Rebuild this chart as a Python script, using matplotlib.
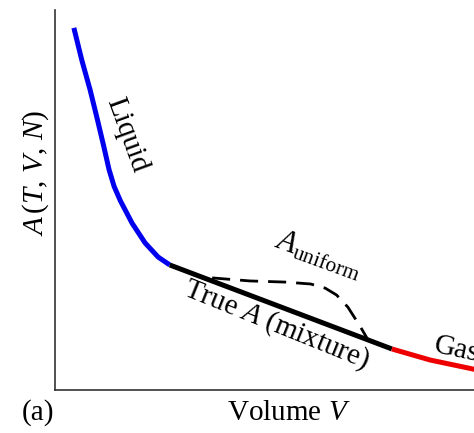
import matplotlib
matplotlib.use("Agg")
import matplotlib.pyplot as plt

plt.rcParams['font.family'] = ['Liberation Serif', 'DejaVu Serif']
plt.rcParams['mathtext.fontset'] = 'custom'
plt.rcParams['mathtext.rm'] = 'Liberation Serif'
plt.rcParams['mathtext.it'] = 'Liberation Serif:italic'

# liquid branch
liquid_v = [0.45, 0.64, 0.84, 1.02, 1.16, 1.29, 1.41, 1.56, 1.84, 2.15, 2.46, 2.74]
liquid_a = [9.53, 8.68, 7.89, 7.08, 6.43, 5.80, 5.36, 4.98, 4.39, 3.87, 3.50, 3.29]
# common tangent (mixture)
mix_v = [2.74, 8.04]
mix_a = [3.29, 1.08]
# gas branch
gas_v = [8.04, 8.95, 10.07]
gas_a = [1.08, 0.79, 0.53]
# uniform free energy (dashed)
unif_v = [3.75, 4.65, 5.49, 6.10, 6.45, 6.72, 6.99, 7.28, 7.47]
unif_a = [2.95, 2.87, 2.84, 2.79, 2.68, 2.50, 2.18, 1.68, 1.32]

fig = plt.figure(figsize=(4.74, 4.33), dpi=100)
ax = fig.add_axes([55/474, 43/433, 1 - 55/474, 380/433])

ax.plot(liquid_v, liquid_a, '-', color="#0000ee", lw=3.6, solid_capstyle='butt', solid_joinstyle='round')
ax.plot(mix_v, mix_a, '-', color="black", lw=3.6, solid_capstyle='butt')
ax.plot(gas_v, gas_a, '-', color="#ee0000", lw=3.6, solid_capstyle='butt', solid_joinstyle='round')
ax.plot(unif_v, unif_a, color="black", lw=2, dashes=(6.5, 3.6))

ax.text(1.72, 6.71, "Liquid", fontsize=21, rotation=-70, ha='center', va='center')
ax.text(6.30, 3.55, r"$A_{\mathrm{uniform}}$", fontsize=22, rotation=-20, ha='center', va='center')
ax.text(5.30, 1.71, r"True $A$ (mixture)", fontsize=21, rotation=-22, ha='center', va='center')
ax.text(9.02, 1.0, "Gas", fontsize=21, rotation=-12, ha='left', va='baseline',
        rotation_mode='anchor', clip_on=False)

ax.set_xlim(0, 10)
ax.set_ylim(0, 10)
ax.set_xticks([])
ax.set_yticks([])
for s in ['top', 'right']:
    ax.spines[s].set_visible(False)
for s in ['left', 'bottom']:
    ax.spines[s].set_color("#333333")
    ax.spines[s].set_linewidth(1.2)

fig.text(36/474, 1 - 173/433, r"$A\,(T,\,V,\,N)$", fontsize=21, rotation=90, ha='center', va='center')
fig.text(289/474, 1 - 413/433, r"Volume $V$", fontsize=21, ha='center', va='center')
fig.text(38/474, 1 - 413/433, "(a)", fontsize=21, ha='center', va='center')

fig.savefig("out.png", dpi=100)
